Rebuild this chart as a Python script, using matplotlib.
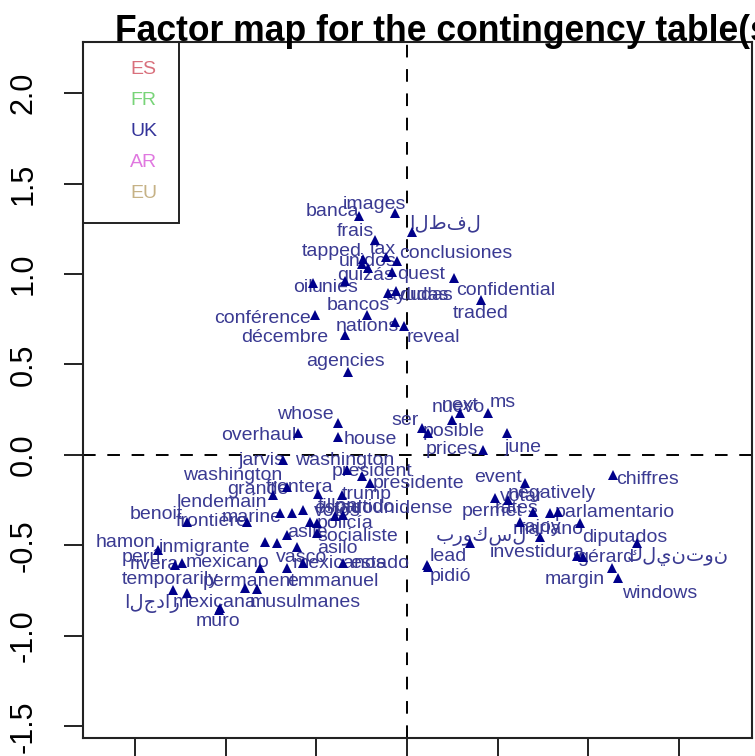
import numpy as np
import matplotlib
matplotlib.use("Agg")
import matplotlib.pyplot as plt
from matplotlib.patches import Rectangle

plt.rcParams['font.family'] = ['Liberation Sans', 'DejaVu Sans']

# Word coordinates on the first two dimensions
words = [
    "banca", "images", "الطفل", "frais", "tapped", "tax", "conclusiones",
    "unidos", "quizás", "quest", "confidential", "traded", "oil", "unies",
    "dudas", "ayudas", "bancos", "conférence", "nations", "reveal",
    "décembre", "agencies", "whose", "overhaul", "house", "ser", "posible",
    "next", "nuevo", "ms", "prices", "june", "chiffres", "jarvis",
    "washington", "washington", "president", "presidente", "frontera",
    "grande", "trump", "estadounidense", "socialiste", "mexicanos", "estado",
    "emmanuel", "permanent", "musulmanes", "mexicana", "muro", "الجدار",
    "temporarily", "mexicano", "hamon", "perú", "rivera", "benoit",
    "inmigrante", "lendemain", "marine", "fillon", "frontière", "policía",
    "votos", "asile", "asilo", "vasco", "partido", "event", "negatively",
    "rates", "permet", "parlamentario", "votar", "mariano", "rajoy",
    "diputados", "بروكسل", "investidura", "gérard", "كلينتون", "lead",
    "pidió", "margin", "windows",
]
coord_x = [
    -0.265, -0.066, 0.028, -0.177, -0.243, -0.116, -0.055,
    -0.249, -0.215, -0.083, 0.260, 0.409, -0.519, -0.343,
    -0.105, -0.061, -0.221, -0.508, -0.066, -0.017,
    -0.343, -0.326, -0.381, -0.602, -0.381, 0.083, 0.116,
    0.293, 0.249, 0.448, 0.420, 0.552, 1.138, -0.685,
    -0.331, -0.663, -0.249, -0.204, -0.492,
    -0.740, -0.359, -0.354, -0.497, -0.575, -0.354,
    -0.663, -0.829, -0.895, -1.033, -1.039, -1.215,
    -1.293, -0.812, -1.376, -1.243, -1.282, -1.215,
    -0.785, -0.702, -0.635, -0.575, -0.884, -0.536,
    -0.497, -0.663, -0.608, -0.718, -0.398, 0.652, 0.558,
    0.486, 0.696, 0.790, 0.834, 0.735, 0.624,
    0.956, 0.348, 0.939, 0.972, 1.271, 0.110,
    0.116, 1.133, 1.166,
]
coord_y = [
    1.320, 1.337, 1.232, 1.188, 1.083, 1.094, 1.072,
    1.055, 1.033, 1.011, 0.978, 0.856, 0.950, 0.961,
    0.895, 0.906, 0.773, 0.773, 0.735, 0.713,
    0.663, 0.459, 0.177, 0.122, 0.099, 0.149, 0.122,
    0.232, 0.193, 0.232, 0.028, 0.122, -0.110, -0.028,
    -0.083, -0.177, -0.116, -0.155, -0.215,
    -0.221, -0.221, -0.331, -0.431, -0.597, -0.597,
    -0.624, -0.740, -0.735, -0.845, -0.856, -0.762,
    -0.746, -0.624, -0.525, -0.597, -0.608, -0.370,
    -0.481, -0.320, -0.320, -0.304, -0.370, -0.370,
    -0.376, -0.442, -0.508, -0.486, -0.337, -0.155, -0.249,
    -0.238, -0.315, -0.320, -0.315, -0.453, -0.370,
    -0.376, -0.486, -0.558, -0.564, -0.486, -0.608,
    -0.619, -0.624, -0.680,
]

# Label placement relative to each point, in pixels
label_dx = [
    -27, -21, 33, -20, -31, -3, 59,
    6, -3, 29, 52, 0, -10, -10,
    38, 21, -9, -53, -28, 29,
    -60, -3, -33, -39, 32, -17, 26,
    0, 6, 15, -31, 16, 35, -21,
    -2, -54, 10, 48, -18,
    -15, 25, 41, 41, 37, 37,
    46, -7, 60, -5, -1, -35,
    -3, -32, -32, -41, -21, -31,
    -60, -58, -40, 35, -35, 35,
    20, 20, 40, 25, 30, -27, 44,
    22, -41, 65, -36, 8, 20,
    45, 11, -40, 23, 41, 21,
    22, -37, 42,
]
label_dy = [
    5, 9, 8, 8, 7, 7, 7,
    3, -7, -2, -13, -13, -4, -6,
    -2, -4, 10, -3, -5, -12,
    -3, 10, 8, -3, -2, 8, 1,
    7, 13, 10, 0, -15, -5, 0,
    9, 11, 4, 0, 6,
    5, 0, 6, -4, 0, 0,
    -14, 7, -15, 5, -12, -11,
    10, 5, 7, 6, 0, 7,
    -5, 10, -5, 3, 0, -2,
    12, 2, -2, -15, 8, 6, 7,
    -10, 0, 0, 15, 7, -6,
    -14, 6, 3, 0, -14, 8,
    -10, -12, -15,
]

groups = ["ES", "FR", "UK", "AR", "EU"]
group_colors = ["#d9707c", "#78d478", "#34349a", "#e078e0", "#c6b286"]

x_ticks = [-1.5, -1.0, -0.5, 0.0, 0.5, 1.0, 1.5]
y_ticks = [-1.5, -1.0, -0.5, 0.0, 0.5, 1.0, 1.5, 2.0]

W, H = 755, 756
fig = plt.figure(figsize=(W / 100, H / 100), dpi=100)
ax = fig.add_axes([83 / W, 18 / H, 669 / W, 696 / H])

dash = (0, (6.5, 6))
ax.axhline(0, color="black", lw=1.4, ls=dash, zorder=1)
ax.axvline(0, color="black", lw=1.4, ls=dash, zorder=1)

ax.plot(coord_x, coord_y, ls="none", marker="^", ms=7.5, mew=0,
        color="#00008B", zorder=3)
for w, x, y, dx, dy in zip(words, coord_x, coord_y, label_dx, label_dy):
    ax.annotate(w, (x, y), xytext=(dx, dy), textcoords="offset pixels",
                ha="center", va="center", fontsize=14, color="#3a3a92",
                zorder=2)

ax.set_xlim(-1.790, 1.906)
ax.set_ylim(-1.564, 2.282)
ax.set_xticks(x_ticks)
ax.set_yticks(y_ticks)
ax.set_yticklabels([f"{v:.1f}" for v in y_ticks], rotation=90, va="center")
ax.tick_params(length=13.7, width=1.4, labelsize=22, pad=18, color="#222222")
ax.tick_params(axis="x", labelbottom=False)
for s in ax.spines.values():
    s.set_linewidth(1.5)
    s.set_color("#222222")

# Group legend box in the top-left corner
ax.add_patch(Rectangle((0, 0.740), 0.1435, 0.260, transform=ax.transAxes,
                       fill=False, lw=1.4, ec="#222222", zorder=4))
for i, (g, c) in enumerate(zip(groups, group_colors)):
    ax.text(0.0703, 0.960 - i * 0.0445, g, transform=ax.transAxes,
            ha="left", va="center", fontsize=14, color=c, zorder=4)

fig.text(115 / W, 1 - 41 / H, "Factor map for the contingency table(s)",
         fontsize=25.6, fontweight="bold", ha="left", va="baseline")

fig.savefig("out.png", dpi=100)
